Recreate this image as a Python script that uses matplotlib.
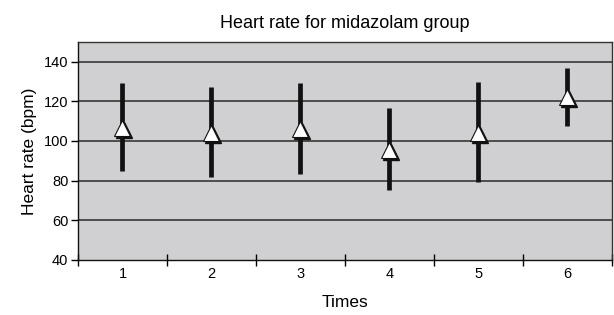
import numpy as np
import matplotlib.pyplot as plt
import matplotlib.transforms as mtransforms

plt.rcParams['font.family'] = ['Liberation Sans', 'DejaVu Sans']

times = [1, 2, 3, 4, 5, 6]
mean_hr = [106.5, 104, 106, 95.5, 104, 122]
low_hr = [85, 82, 83.5, 75.5, 79.5, 107.5]
high_hr = [129.5, 127, 129.5, 116.5, 130, 137]

fig = plt.figure(figsize=(6.14, 3.15), dpi=100)
ax = fig.add_axes([0.127, 0.175, 0.8697, 0.692])
ax.set_facecolor('#d0d0d2')

for y in range(60, 150, 20):
    ax.axhline(y, color='#2a2a2a', lw=1.1, zorder=1)

x = np.array(times)
m = np.array(mean_hr)
yerr = [m - np.array(low_hr), np.array(high_hr) - m]
ax.errorbar(x, m, yerr=yerr, fmt='none', ecolor='#111111', elinewidth=3.4,
            capsize=0, zorder=2)

# shadow behind marker
shadow = mtransforms.offset_copy(ax.transData, fig=fig, x=1.8, y=-1.8, units='dots')
ax.plot(x, m, '^', ms=12, color='#111111', mec='#111111', transform=shadow, zorder=3)
ax.plot(x, m, '^', ms=12, mfc='white', mec='#111111', mew=0.8, zorder=4)

ax.set_xlim(0.5, 6.5)
ax.set_ylim(40, 150)
ax.set_yticks(range(40, 141, 20))
ax.set_xticks(times)
ax.set_xticks(np.arange(0.5, 6.6, 1), minor=True)
ax.tick_params(axis='x', which='major', length=0, pad=5, labelsize=10.5)
ax.tick_params(axis='x', which='minor', direction='inout', length=9, width=1)
ax.tick_params(axis='y', length=5, width=1, labelsize=10.5, pad=2)

for s in ax.spines.values():
    s.set_color('#333333')
    s.set_linewidth(1)
ax.spines['bottom'].set_color('#111111')
ax.spines['left'].set_color('#111111')

ax.set_title('Heart rate for midazolam group', fontsize=13, pad=10)
ax.set_xlabel('Times', fontsize=12.5, labelpad=10)
ax.set_ylabel('Heart rate (bpm)', fontsize=12.5, labelpad=5)

fig.savefig('out.png', dpi=100)
